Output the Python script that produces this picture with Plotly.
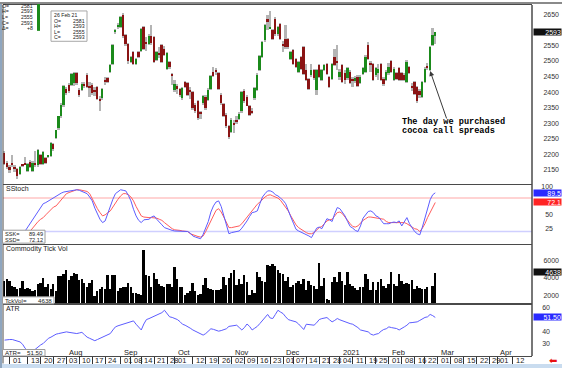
import plotly.graph_objects as go
import pandas as pd

# ---------------- data ----------------
holidays = ["2020-07-03", "2020-09-07", "2020-11-26", "2020-12-25",
            "2021-01-01", "2021-01-18", "2021-02-15", "2021-04-02"]
last_day = "2021-02-26"

price_open = [2204, 2172, 2160, 2172, 2160, 2152, 2138, 2168, 2170, 2148, 2176, 2148, 2170, 2166, 2198, 2168, 2188, 2193, 2196, 2232,
              2252, 2284, 2322, 2360, 2410, 2422, 2424, 2430, 2462, 2408, 2408, 2425, 2456, 2420, 2424, 2408, 2416, 2378, 2380, 2438,
              2446, 2466, 2491, 2594, 2610, 2608, 2647, 2583, 2554, 2497, 2528, 2492, 2528, 2532, 2608, 2560, 2554, 2582, 2576, 2504,
              2525, 2550, 2538, 2476, 2496, 2458, 2408, 2420, 2410, 2380, 2432, 2430, 2408, 2400, 2360, 2372, 2336, 2364, 2386, 2374,
              2410, 2464, 2470, 2462, 2392, 2362, 2328, 2290, 2272, 2300, 2310, 2315, 2338, 2405, 2386, 2357, 2340, 2380, 2408, 2472,
              2513, 2567, 2634, 2605, 2599, 2634, 2586, 2618, 2555, 2570, 2570, 2507, 2535, 2507, 2465, 2513, 2545, 2472, 2443, 2455,
              2472, 2408, 2488, 2440, 2472, 2491, 2449, 2443, 2513, 2500, 2450, 2488, 2460, 2445, 2465, 2440, 2436, 2450, 2430, 2458,
              2465, 2551, 2495, 2491, 2455, 2460, 2491, 2443, 2440, 2460, 2500, 2440, 2462, 2478, 2460, 2455, 2433, 2480, 2420, 2433,
              2417, 2405, 2386, 2433, 2480, 2472, 2551, 2581]
price_high = [2210, 2180, 2165, 2198, 2165, 2156, 2163, 2170, 2191, 2174, 2182, 2178, 2210, 2218, 2202, 2212, 2192, 2198, 2240, 2236,
              2280, 2325, 2364, 2424, 2418, 2428, 2462, 2464, 2466, 2412, 2432, 2432, 2460, 2434, 2428, 2416, 2420, 2388, 2414, 2448,
              2450, 2492, 2555, 2604, 2622, 2645, 2655, 2588, 2558, 2516, 2532, 2510, 2532, 2606, 2612, 2578, 2586, 2615, 2580, 2532,
              2545, 2554, 2548, 2530, 2500, 2460, 2440, 2425, 2412, 2418, 2436, 2434, 2418, 2404, 2364, 2376, 2340, 2392, 2390, 2412,
              2456, 2480, 2478, 2466, 2396, 2366, 2332, 2294, 2316, 2310, 2322, 2335, 2405, 2410, 2390, 2360, 2350, 2418, 2460, 2520,
              2565, 2620, 2648, 2660, 2604, 2640, 2612, 2622, 2564, 2615, 2575, 2532, 2538, 2510, 2500, 2516, 2548, 2490, 2446, 2490,
              2476, 2476, 2492, 2476, 2492, 2494, 2452, 2494, 2540, 2551, 2475, 2492, 2470, 2482, 2470, 2450, 2452, 2455, 2455, 2482,
              2518, 2560, 2500, 2495, 2482, 2490, 2495, 2448, 2470, 2495, 2504, 2480, 2466, 2482, 2465, 2460, 2502, 2484, 2430, 2436,
              2420, 2410, 2437, 2480, 2495, 2548, 2605, 2593]
price_low = [2165, 2152, 2140, 2160, 2145, 2122, 2135, 2160, 2165, 2145, 2156, 2145, 2160, 2160, 2165, 2165, 2168, 2190, 2192, 2212,
             2248, 2280, 2318, 2352, 2390, 2398, 2420, 2420, 2424, 2385, 2404, 2412, 2414, 2386, 2392, 2388, 2374, 2338, 2376, 2424,
             2430, 2462, 2488, 2588, 2604, 2605, 2575, 2548, 2492, 2494, 2488, 2488, 2510, 2528, 2535, 2532, 2550, 2552, 2494, 2500,
             2510, 2494, 2515, 2472, 2476, 2424, 2400, 2395, 2385, 2376, 2414, 2388, 2378, 2344, 2334, 2312, 2315, 2360, 2344, 2370,
             2406, 2448, 2455, 2406, 2360, 2320, 2285, 2250, 2268, 2270, 2298, 2312, 2334, 2366, 2354, 2324, 2330, 2376, 2404, 2468,
             2510, 2562, 2600, 2602, 2566, 2580, 2582, 2566, 2530, 2540, 2540, 2504, 2488, 2478, 2462, 2470, 2455, 2436, 2408, 2450,
             2440, 2390, 2446, 2436, 2468, 2456, 2414, 2440, 2484, 2470, 2440, 2430, 2425, 2440, 2425, 2415, 2428, 2416, 2425, 2454,
             2460, 2503, 2465, 2436, 2450, 2440, 2436, 2420, 2436, 2455, 2460, 2436, 2438, 2436, 2435, 2435, 2430, 2458, 2405, 2390,
             2366, 2380, 2382, 2430, 2470, 2468, 2548, 2555]
price_close = [2170, 2158, 2150, 2168, 2152, 2130, 2160, 2165, 2168, 2170, 2160, 2172, 2166, 2214, 2170, 2207, 2172, 2196, 2236, 2218,
               2277, 2322, 2360, 2421, 2396, 2404, 2459, 2460, 2428, 2392, 2427, 2420, 2418, 2415, 2396, 2400, 2378, 2372, 2410, 2435,
               2434, 2488, 2551, 2600, 2612, 2640, 2580, 2556, 2500, 2512, 2492, 2506, 2514, 2602, 2540, 2555, 2582, 2558, 2498, 2528,
               2520, 2498, 2520, 2526, 2480, 2455, 2426, 2410, 2390, 2414, 2418, 2392, 2400, 2348, 2338, 2316, 2330, 2388, 2348, 2408,
               2452, 2452, 2466, 2410, 2364, 2325, 2290, 2255, 2312, 2296, 2306, 2331, 2401, 2370, 2357, 2328, 2336, 2414, 2456, 2516,
               2561, 2615, 2624, 2610, 2570, 2586, 2608, 2570, 2550, 2545, 2545, 2529, 2491, 2481, 2497, 2475, 2459, 2440, 2411, 2470,
               2445, 2472, 2449, 2472, 2488, 2459, 2417, 2491, 2488, 2495, 2465, 2433, 2440, 2478, 2430, 2436, 2445, 2420, 2450, 2478,
               2513, 2507, 2490, 2440, 2478, 2475, 2440, 2425, 2465, 2482, 2465, 2475, 2442, 2440, 2440, 2440, 2497, 2462, 2415, 2395,
               2370, 2390, 2433, 2475, 2478, 2545, 2585, 2593]

stoch_k = [None] * 8 + [
    21, 28, 35, 42, 50, 58, 64, 70, 72, 75,
    78, 80, 83, 86, 89, 91, 92, 93, 94, 95,
    95, 94, 92, 90, 88, 82, 75, 62, 52, 42,
    36, 39, 52, 66, 78, 88, 92, 95, 94, 93,
    85, 75, 60, 48, 40, 36, 41, 41, 42, 46,
    48, 42, 36, 32, 27, 25, 23, 22, 21, 21,
    20, 20, 20, 20, 17, 12, 10, 8, 7, 15,
    25, 38, 55, 66, 73, 75, 65, 50, 32, 16,
    18, 19, 20, 21, 26, 32, 39, 47, 54, 55,
    57, 70, 82, 88, 93, 93, 91, 86, 84, 80,
    76, 70, 56, 46, 35, 24, 21, 19, 17, 15,
    12, 9, 18, 26, 28, 25, 34, 43, 41, 38,
    52, 63, 61, 55, 48, 38, 29, 26, 22, 20,
    30, 44, 50, 56, 57, 54, 48, 46, 40, 34,
    34, 34, 36, 37, 36, 39, 30, 38, 45, 34,
    27, 20, 16, 14, 28, 45, 60, 77, 86, 89.49]
stoch_d = [None] * 10 + [
    21, 27, 33, 38, 42, 45, 50, 55, 60, 64,
    66, 72, 78, 83, 88, 90, 92, 94, 95, 95,
    94, 93, 92, 88, 78, 68, 61, 54, 48, 50,
    54, 57, 64, 72, 78, 84, 88, 88, 86, 82,
    75, 65, 56, 48, 46, 45, 45, 45, 45, 44,
    42, 40, 36, 32, 28, 25, 23, 23, 22, 21,
    21, 20, 16, 14, 12, 11, 10, 12, 20, 30,
    40, 50, 58, 61, 55, 46, 36, 27, 27, 28,
    29, 30, 34, 40, 46, 52, 58, 64, 69, 73,
    78, 82, 85, 86, 84, 82, 80, 76, 70, 63,
    57, 48, 40, 32, 27, 24, 20, 18, 16, 16,
    18, 22, 27, 29, 34, 39, 41, 42, 48, 54,
    55, 52, 46, 39, 34, 29, 28, 30, 35, 40,
    43, 46, 46, 45, 44, 43, 43, 42, 38, 36,
    36, 36, 36, 37, 37, 36, 34, 31, 28, 25,
    24, 20, 26, 34, 45, 55, 64, 72.12]
stoch_levels = [80, 20]

tick_volume = [
    3720, 3950, 3720, 3150, 3040, 2800, 2900, 3720, 2800, 2900,
    2800, 2580, 2650, 3380, 3500, 4060, 2970, 3300, 2800, 3380,
    2580, 4290, 4290, 4520, 4970, 3830, 4290, 4630, 4520, 3830,
    3950, 3440, 2970, 3500, 3830, 2010, 2580, 2800, 3040, 2800,
    4400, 2800, 4400, 4400, 2580, 2900, 2970, 3040, 3500, 2970,
    2350, 2350, 2240, 2130, 7250, 4400, 4290, 3040, 4630, 3950,
    3380, 3150, 3040, 3380, 3300, 3040, 5320, 3950, 3040, 2970,
    2130, 2350, 2580, 3500, 2580, 2130,
    2160, 3190, 4030, 2920, 2800, 2610, 2690, 2690, 2800, 4140,
    3190, 4070, 4600, 4970, 3190, 3950, 3380, 4330, 3600, 2050,
    2610, 2280, 4710, 4210, 3750, 3600, 5580, 5470, 5650, 5470,
    5000, 4600, 4520, 3750, 4140, 3000, 3190, 3420, 3750, 3300,
    3950, 2690, 3750, 3190, 3080, 2800, 5740, 3080, 4070, 1670,
    1560, 3570, 4210, 3570, 4710, 3750, 3190, 4710, 3380, 3080,
    2920, 2690, 3000, 3000, 4450, 3870, 2690, 3600, 2690, 3570,
    3910, 3150, 2900, 3380, 4780, 3300, 3080, 4480, 3720, 3380,
    3440, 3300, 3800, 2800, 3150, 2900, 2800, 2800, 3000, 800,
    3080, 4638]

atr = [
    32.5, 33, 33, 33, 32.5, 32, 31, 29, 25.6, 23.6,
    23.5, 23.8, 25, 27, 28.5, 29.7, 32, 34, 35, 36.5,
    37.5, 38, 38.5, 39, 39.4, 39, 38.5, 38, 38, 38.5,
    39, 37, 35, 34, 33, 32, 33, 34, 35, 36,
    37, 38, 41, 43.6, 44.5, 45.2, 45.8, 46.5, 47.5, 48.2,
    48.6, 45.8, 43, 41, 46, 49.7, 50.5, 51.5, 52, 53,
    54, 55.5, 57.5, 54.5, 52, 51.5, 50.5, 49.7, 48, 45.8,
    45, 44, 42.5, 41, 40, 39, 38, 36.7, 38, 40,
    42, 41.5, 41, 40, 40.5, 41, 42, 44, 44.5, 45,
    45, 43, 41, 43, 46, 44, 41, 42.5, 44, 46.4,
    49, 51.5, 54, 51, 50.6, 54, 57.5, 56, 54.7, 52,
    49.7, 49, 48.5, 47.8, 46, 43.6, 41.4, 45.8, 45.5, 45.2,
    45, 47, 49.7, 50.5, 51, 51.4, 49.5, 47.8, 49, 50.6,
    49.5, 48.6, 48, 47, 46.3, 45.8, 44.5, 43, 41, 40.5,
    40, 39.4, 37.5, 36.7, 37.5, 38, 40, 41.4, 42, 43.6,
    43, 42.5, 42.2, 41, 42, 43.6, 45, 47, 47.2, 47.5,
    47.8, 49, 50.6, 51.5, 52, 54, 53, 51.5]

# visible right-hand tick labels (the ones under the value tags are hidden in the original)
price_ticks = [2150, 2200, 2250, 2300, 2350, 2400, 2450, 2500, 2550, 2650]
stoch_ticks = [25, 50, 100]
vol_ticks = [2000, 4000, 6000]
atr_ticks = [30, 40, 60]

tick_dates = ["2020-07-01", "2020-07-13", "2020-07-20", "2020-07-27", "2020-08-03", "2020-08-10",
              "2020-08-17", "2020-08-24", "2020-09-01", "2020-09-08", "2020-09-14", "2020-09-21",
              "2020-09-28", "2020-10-01", "2020-10-12", "2020-10-19", "2020-10-26", "2020-11-02",
              "2020-11-09", "2020-11-16", "2020-11-23", "2020-12-01", "2020-12-07", "2020-12-14",
              "2020-12-21", "2020-12-28", "2021-01-04", "2021-01-11", "2021-01-19", "2021-01-25",
              "2021-02-01", "2021-02-08", "2021-02-16", "2021-02-22", "2021-03-01", "2021-03-08",
              "2021-03-15", "2021-03-22", "2021-03-29", "2021-04-01", "2021-04-12"]
month_dates = ["2020-08-03", "2020-09-01", "2020-10-01", "2020-11-02", "2020-12-01",
               "2021-01-04", "2021-02-01", "2021-03-01", "2021-04-01"]
month_labels = ["Aug", "Sep", "Oct", "Nov", "Dec", "2021", "Feb", "Mar", "Apr"]

# ---------------- calendar / helpers ----------------
cal = [d.strftime("%Y-%m-%d") for d in pd.bdate_range("2020-06-29", "2021-04-30")]
cal = [d for d in cal if d not in holidays]
pos = {d: i for i, d in enumerate(cal)}
n_last = pos[last_day]


def xs(arr):
    return list(range(n_last - len(arr) + 1, n_last + 1))


W, H = 562, 368
ML, MR, MT, MB = 3, 3, 3, 12
PW, PH = W - ML - MR, H - MT - MB


def px(x):
    return (x - ML) / PW


def py(y):
    return (H - MB - y) / PH


XD = px(532)
FONT = "Liberation Sans, Arial, sans-serif"
MONO = "Liberation Mono, DejaVu Sans Mono, monospace"
GREEN, MAROON, WICK = "#1b8a1b", "#8a1414", "#b4b4b4"
BLUE, RED = "#5c5cff", "#ff5c5c"
FRAME = "#4a4a4a"

fig = go.Figure()

# ---- price: gray high-low range + coloured open-close body ----
px_x = xs(price_close)
fig.add_trace(go.Bar(x=px_x, base=price_low,
                     y=[h - l for h, l in zip(price_high, price_low)],
                     width=0.72, marker=dict(color=WICK, line=dict(width=0)),
                     xaxis="x", yaxis="y", hoverinfo="skip"))
fig.add_trace(go.Bar(x=px_x, base=[min(o, c) for o, c in zip(price_open, price_close)],
                     y=[max(abs(c - o), 3) for o, c in zip(price_open, price_close)],
                     width=0.72,
                     marker=dict(color=[GREEN if c >= o else MAROON for o, c in zip(price_open, price_close)],
                                 line=dict(width=0)),
                     xaxis="x", yaxis="y", hoverinfo="skip"))

# ---- stochastics ----
fig.add_trace(go.Scatter(x=xs(stoch_d), y=stoch_d, mode="lines", line=dict(color=RED, width=1),
                         xaxis="x2", yaxis="y2", hoverinfo="skip"))
fig.add_trace(go.Scatter(x=xs(stoch_k), y=stoch_k, mode="lines", line=dict(color=BLUE, width=1),
                         xaxis="x2", yaxis="y2", hoverinfo="skip"))

# ---- tick volume ----
fig.add_trace(go.Bar(x=xs(tick_volume), y=tick_volume, width=0.72,
                     marker=dict(color="#000000", line=dict(width=0)),
                     xaxis="x3", yaxis="y3", hoverinfo="skip"))

# ---- ATR ----
fig.add_trace(go.Scatter(x=xs(atr), y=atr, mode="lines", line=dict(color=BLUE, width=1),
                         xaxis="x4", yaxis="y4", hoverinfo="skip"))

xrange = [-0.6, 204.5]
xcommon = dict(range=xrange, showgrid=False, zeroline=False, showline=True, mirror=True,
               linecolor=FRAME, linewidth=1, fixedrange=True)
ycommon = dict(showgrid=False, zeroline=False, showline=False, ticks="", anchor="free",
               side="left", tickfont=dict(family=FONT, size=7, color="#333333"), fixedrange=True)

layout = dict(
    width=W, height=H, margin=dict(l=ML, r=MR, t=MT, b=MB),
    paper_bgcolor="white", plot_bgcolor="white", showlegend=False, barmode="overlay",
    bargap=0,
    xaxis=dict(domain=[0, XD], anchor="y", showticklabels=False, ticks="", **xcommon),
    xaxis2=dict(domain=[0, XD], anchor="y2", matches="x", showticklabels=False, ticks="", **xcommon),
    xaxis3=dict(domain=[0, XD], anchor="y3", matches="x", showticklabels=False, ticks="", **xcommon),
    xaxis4=dict(domain=[0, XD], anchor="y4", matches="x", showticklabels=False, ticks="outside",
                ticklen=7, tickwidth=1, tickcolor="#333333",
                tickvals=[pos[d] for d in tick_dates], **xcommon),
    yaxis=dict(domain=[py(183), 1], range=[2105, 2680], tickvals=price_ticks, position=1.0, **ycommon),
    yaxis2=dict(domain=[py(243), py(184)], range=[-1.8, 103.6], tickvals=stoch_ticks, position=px(553), **ycommon),
    yaxis3=dict(domain=[py(303.5), py(244)], range=[1040, 7824], tickvals=vol_ticks, position=1.0, **ycommon),
    yaxis4=dict(domain=[0, py(304)], range=[19.2, 62.5], tickvals=atr_ticks, position=px(550), **ycommon),
)
fig.update_layout(**layout)

shapes = []
# stochastic reference levels
for lvl, col in zip(stoch_levels, ["#ffc4c4", "#cfcfff"]):
    shapes.append(dict(type="line", xref="x2 domain", x0=0, x1=1, yref="y2", y0=lvl, y1=lvl,
                       line=dict(color=col, width=1.5), layer="below"))
# vertical frame lines of the panels and outer frame
shapes.append(dict(type="line", xref="paper", x0=0, x1=0, yref="paper", y0=py(363.5), y1=1,
                   line=dict(color=FRAME, width=1)))
shapes.append(dict(type="line", xref="paper", x0=XD, x1=XD, yref="paper", y0=0, y1=1,
                   line=dict(color=FRAME, width=1.5)))
shapes.append(dict(type="rect", xref="paper", x0=px(-2), x1=px(564), yref="paper", y0=py(364), y1=py(370),
                   fillcolor="#c9dcef", line=dict(width=0)))
shapes.append(dict(type="line", xref="paper", x0=px(1), x1=px(1), yref="paper", y0=py(368), y1=py(0),
                   line=dict(color="#8fa6bf", width=2)))
shapes.append(dict(type="line", xref="paper", x0=px(0), x1=px(562), yref="paper", y0=py(1), y1=py(1),
                   line=dict(color="#8a8a8a", width=2)))
# last-bar icon and info box
shapes.append(dict(type="rect", xref="paper", yref="paper", x0=px(37), x1=px(40), y0=py(29), y1=py(2),
                   fillcolor=GREEN if price_close[-1] >= price_open[-1] else MAROON, line=dict(width=0)))
shapes.append(dict(type="rect", xref="paper", yref="paper", x0=px(51), x1=px(87), y0=py(39.5), y1=py(9),
                   fillcolor="white", line=dict(color="#a8a8a8", width=1)))
# panel value boxes
for (x0, x1, y0, y1) in [(2.5, 45, 229.5, 242.5), (2.5, 54, 296.5, 303.5), (2.5, 45, 349.5, 356)]:
    shapes.append(dict(type="rect", xref="paper", yref="paper", x0=px(x0), x1=px(x1), y0=py(y1), y1=py(y0),
                       fillcolor="white", line=dict(color="#9a9a9a", width=1)))
fig.update_layout(shapes=shapes)

ann = []


def txt(x, y, s, size=6.5, anchor="left", color="#222222", family=FONT, bold=False, pad=1):
    ann.append(dict(xref="paper", yref="paper", x=px(x), y=py(y), text=f"<b>{s}</b>" if bold else s,
                    showarrow=False, xanchor=anchor, yanchor="middle", borderpad=pad,
                    font=dict(family=family, size=size, color=color)))


chg = price_close[-1] - price_close[-2]
info_labels = ["O=", "H=", "L=", "C=", "Δ="]
info_values = [str(price_open[-1]), str(price_high[-1]), str(price_low[-1]), str(price_close[-1]),
               f"{chg:+d}"]
for i, (lab, val) in enumerate(zip(info_labels, info_values)):
    yy = 3.6 + 5.7 * i
    txt(1, yy, lab, size=5.2, pad=0)
    txt(33.5, yy, val, size=5.2, anchor="right", pad=0)

d_last = pd.Timestamp(last_day)
txt(53, 13, f"{d_last.day:02d} {d_last.strftime('%b')} {d_last.strftime('%y')}", size=5.2, pad=0)
for i, (lab, val) in enumerate(zip(info_labels[:4], info_values[:4])):
    yy = 18.7 + 5.5 * i
    txt(53, yy, lab, size=5.2, pad=0)
    txt(85.5, yy, val, size=5.2, anchor="right", pad=0)

# panel titles and values
txt(4, 187.5, "SStoch", size=7)
txt(4, 233.0, "SSK=", size=5.6, pad=0)
txt(44, 233.0, f"{stoch_k[-1]:.2f}", size=5.6, anchor="right", pad=0)
txt(4, 239.3, "SSD=", size=5.6, pad=0)
txt(44, 239.3, f"{stoch_d[-1]:.2f}", size=5.6, anchor="right", pad=0)
txt(4, 248, "Commodity Tick Vol", size=7)
txt(4, 300.3, "TckVol=", size=6.2, pad=0)
txt(53, 300.3, f"{tick_volume[-1]}", size=6.2, anchor="right", pad=0)
txt(4, 307.8, "ATR", size=7)
txt(4, 352.9, "ATR=", size=6.2, pad=0)
txt(44, 352.9, f"{atr[-1]:.2f}", size=6.2, anchor="right", pad=0)

# right-hand value tags


def tag(yref, yv, s, bg):
    ann.append(dict(xref="paper", yref=yref, x=XD, y=yv, xanchor="left", yanchor="middle", xshift=1,
                    text=s, showarrow=False, bgcolor=bg, width=27, height=6, borderpad=0, align="right",
                    font=dict(family=FONT, size=7, color="white")))


tag("y", price_close[-1], f"{price_close[-1]}", "#101010")
tag("y2", stoch_k[-1], f"{stoch_k[-1]:.1f}", "#2a2aff")
tag("y2", stoch_d[-1], f"{stoch_d[-1]:.1f}", "#ff2424")
tag("y3", tick_volume[-1], f"{tick_volume[-1]}", "#101010")
tag("y4", atr[-1], f"{atr[-1]:.2f}", "#2a2aff")

# date labels
for d in tick_dates:
    ann.append(dict(xref="x4", yref="paper", x=pos[d], y=py(360.3), xanchor="left", yanchor="middle",
                    xshift=1, text=d[-2:], showarrow=False, font=dict(family=FONT, size=7.5, color="#222222")))
for d, m in zip(month_dates, month_labels):
    ann.append(dict(xref="x4", yref="paper", x=pos[d], y=py(352.6), xanchor="left", yanchor="middle",
                    xshift=1, text=m, showarrow=False, font=dict(family=FONT, size=7.5, color="#222222")))

# red scroll arrow
txt(553, 360.5, "⬅", size=10, anchor="center", color="#e81010")

# annotation about the purchase
buy_idx = n_last - 2
ann.append(dict(xref="x", yref="y", x=buy_idx, y=price_low[-3], ax=17, ay=49, axref="pixel", ayref="pixel",
                text="", showarrow=True, arrowhead=2, arrowsize=1, arrowwidth=1, arrowcolor="#3a3a3a",
                standoff=0))
txt(401, 121, "The day we purchased", size=8.6, family=MONO, color="#000000", bold=True, pad=0)
txt(401, 129.5, "cocoa call spreads", size=8.6, family=MONO, color="#000000", bold=True, pad=0)

fig.update_layout(annotations=ann)

fig.write_html("out.html", config={"displayModeBar": False},
               post_script="document.body.style.margin='0';document.body.style.overflow='hidden';")
